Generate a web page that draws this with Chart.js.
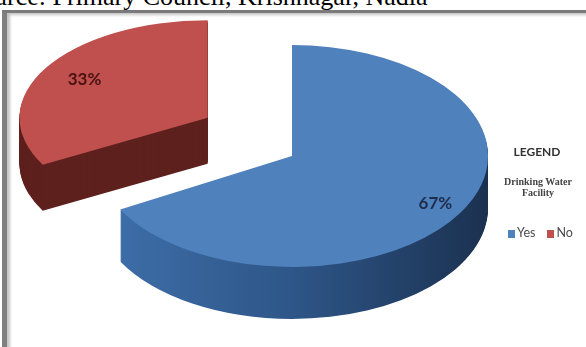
<!DOCTYPE html>
<html>
<head>
<meta charset="utf-8">
<script src="https://cdn.jsdelivr.net/npm/chart.js@4.4.1/dist/chart.umd.min.js"></script>
<style>
    html, body { margin: 0; padding: 0; background: #fff; }
    body { width: 586px; height: 347px; position: relative; overflow: hidden; }
    .source {
        position: absolute; left: -6px; top: -16px; white-space: nowrap;
        font: 26px/26px "Liberation Serif", serif; color: #000;
    }
    .frame {
        position: absolute; left: 2px; top: 10px; width: 620px; height: 400px;
        border-left: 5px solid #808080; border-top: 3px solid #7a7a7a;
        box-shadow: inset 3px 2px 3px #c4c4c4;
    }
    #pie { position: absolute; left: 0; top: 0; }
    .legend-title {
        position: absolute; left: 497px; top: 144px; width: 80px; text-align: center;
        font: bold 12px "Lato", sans-serif; color: #333;
    }
    .legend-sub {
        position: absolute; left: 493px; top: 176px; width: 90px; text-align: center;
        font: bold 10px/11px "Liberation Serif", serif; color: #444;
    }
    .legend-items {
        position: absolute; left: 508px; top: 226px; white-space: nowrap;
        font: 12.5px/14px "Lato", sans-serif; color: #4a4a4a;
    }
    .legend-items span.box {
        display: inline-block; width: 7px; height: 8px; margin-right: 2px; vertical-align: -1px;
    }
    .legend-items span.item { margin-right: 12px; }
</style>
</head>
<body>
<div class="source">urce: Primary Council, Krishnagar, Nadia</div>
<div class="frame"></div>
<canvas id="pie" width="586" height="347"></canvas>
<div class="legend-title">LEGEND</div>
<div class="legend-sub">Drinking Water<br>Facility</div>
<div class="legend-items" id="legendItems"></div>

<script>
// data
const categories = ['Yes', 'No'];
const shares = [67, 33];
const topColors = ['#4f81bd', '#c0504d'];
const labelColors = ['#1f2d4d', '#4a1212'];

// fake 3D look: squash the pie, stack a darker copy underneath,
// pull the small slice out and shrink it a bit (it sits further back)
const tilt = 0.566;
const depth = 52;
const explode = [0, 98];
const lift = [0, -10];
const sliceScaleX = [1, 0.96];
const sliceScaleY = [1, 0.88];
const labelFactor = [0.85, 0.76];

function sideFill(ctx, index, arc) {
    if (index === 0) {
        let g = ctx.createLinearGradient(arc.x - arc.outerRadius, 0, arc.x + arc.outerRadius, 0);
        g.addColorStop(0, '#3f70ab');
        g.addColorStop(0.5, '#2e5688');
        g.addColorStop(1, '#1b3150');
        return g;
    }
    return '#5e211e';
}

function applyTilt(ctx, arc, i) {
    let mid = (arc.startAngle + arc.endAngle) / 2;
    ctx.translate(0, lift[i]);
    ctx.translate(0, arc.y);
    ctx.scale(1, tilt);
    ctx.translate(0, -arc.y);
    ctx.translate(Math.cos(mid) * explode[i], Math.sin(mid) * explode[i]);
    ctx.translate(arc.x, arc.y);
    ctx.scale(sliceScaleX[i], sliceScaleY[i]);
    ctx.translate(-arc.x, -arc.y);
}

const tiltPlugin = {
    id: 'tilt3d',
    beforeDatasetsDraw(chart) {
        const ctx = chart.ctx;
        const arcs = chart.getDatasetMeta(0).data;

        // side walls
        arcs.forEach((arc, i) => {
            let h = Math.round(depth * sliceScaleY[i]);
            for (let d = h; d > 0; d--) {
                ctx.save();
                ctx.translate(0, d);
                applyTilt(ctx, arc, i);
                ctx.beginPath();
                ctx.moveTo(arc.x, arc.y);
                ctx.arc(arc.x, arc.y, arc.outerRadius, arc.startAngle, arc.endAngle);
                ctx.closePath();
                ctx.fillStyle = sideFill(ctx, i, arc);
                ctx.fill();
                ctx.restore();
            }
        });

        // top faces, drawn by the arc elements themselves
        arcs.forEach((arc, i) => {
            ctx.save();
            applyTilt(ctx, arc, i);
            arc.draw(ctx);
            ctx.restore();
        });
        return false;
    },
    afterDraw(chart) {
        const ctx = chart.ctx;
        const arcs = chart.getDatasetMeta(0).data;
        const total = shares.reduce((a, b) => a + b, 0);
        ctx.save();
        ctx.font = 'bold 17px Lato, sans-serif';
        ctx.textAlign = 'center';
        ctx.textBaseline = 'middle';
        arcs.forEach((arc, i) => {
            let mid = (arc.startAngle + arc.endAngle) / 2;
            let r = arc.outerRadius * labelFactor[i];
            let x = arc.x + Math.cos(mid) * (explode[i] + r * sliceScaleX[i]);
            let y = arc.y + lift[i] + Math.sin(mid) * (explode[i] + r * sliceScaleY[i]) * tilt;
            ctx.fillStyle = labelColors[i];
            ctx.fillText(Math.round(shares[i] / total * 100) + '%', x, y);
        });
        ctx.restore();
    }
};

new Chart(document.getElementById('pie'), {
    type: 'pie',
    data: {
        labels: categories,
        datasets: [{
            data: shares,
            backgroundColor: topColors,
            borderWidth: 0,
            clip: false
        }]
    },
    options: {
        responsive: false,
        animation: false,
        events: [],
        radius: 196,
        layout: { padding: { left: 0, right: 2, top: 0, bottom: 35 } },
        plugins: {
            legend: { display: false },
            tooltip: { enabled: false }
        }
    },
    plugins: [tiltPlugin]
});

let legendHtml = '';
categories.forEach((c, i) => {
    legendHtml += `<span class="item"><span class="box" style="background:${topColors[i]}"></span>${c}</span>`;
});
document.getElementById('legendItems').innerHTML = legendHtml;
</script>
</body>
</html>
